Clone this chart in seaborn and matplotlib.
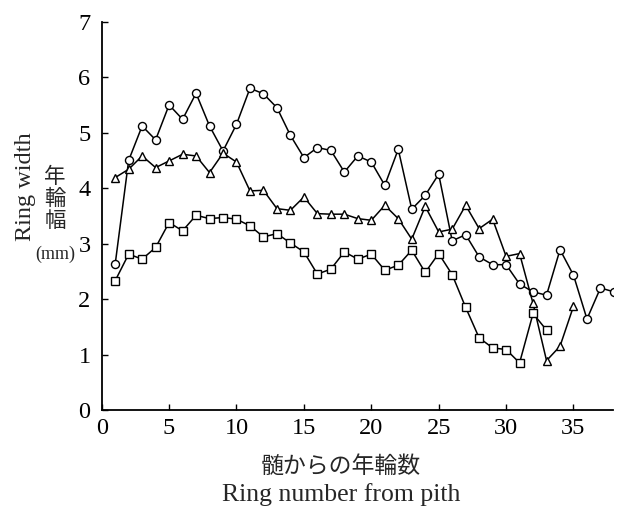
import numpy as np
import pandas as pd
import matplotlib
matplotlib.use("Agg")
import matplotlib.pyplot as plt
import seaborn as sns

# ---- data ----
ring_circle = list(range(1, 39))
width_circle = [2.63, 4.50, 5.12, 4.87, 5.50, 5.24, 5.71, 5.12, 4.67, 5.15,
                5.80, 5.70, 5.45, 4.95, 4.55, 4.73, 4.68, 4.29, 4.58, 4.47,
                4.05, 4.70, 3.62, 3.87, 4.25, 3.05, 3.16, 2.76, 2.62, 2.62,
                2.27, 2.13, 2.07, 2.89, 2.43, 1.64, 2.20, 2.13]

ring_triangle = list(range(1, 36))
width_triangle = [4.19, 4.34, 4.58, 4.37, 4.49, 4.61, 4.58, 4.28, 4.63, 4.47,
                  3.95, 3.96, 3.63, 3.60, 3.84, 3.54, 3.53, 3.53, 3.45, 3.42,
                  3.69, 3.45, 3.08, 3.67, 3.21, 3.26, 3.69, 3.27, 3.44, 2.77,
                  2.82, 1.92, 0.89, 1.15, 1.87]

ring_square = list(range(1, 34))
width_square = [2.33, 2.81, 2.72, 2.93, 3.38, 3.23, 3.51, 3.45, 3.47, 3.44,
                3.32, 3.12, 3.18, 3.01, 2.85, 2.45, 2.54, 2.85, 2.72, 2.81,
                2.52, 2.61, 2.88, 2.48, 2.82, 2.44, 1.85, 1.30, 1.12, 1.09,
                0.85, 1.74, 1.44]

x_ticks = [0, 5, 10, 15, 20, 25, 30, 35]
y_ticks = [0, 1, 2, 3, 4, 5, 6, 7]

sns.set_style("ticks")
plt.rcParams['font.family'] = ['Liberation Serif', 'Noto Sans CJK JP', 'DejaVu Sans']

W, H = 621, 509
fig = plt.figure(figsize=(W / 100, H / 100), dpi=100)
ax = fig.add_axes([101.7 / W, 1 - 410 / H, (613 - 101.7) / W, (410 - 21.7) / H])

series = [
    (ring_circle, width_circle, 'o', 5.8),
    (ring_triangle, width_triangle, '^', 6.2),
    (ring_square, width_square, 's', 5.6),
]
for xs, ys, mk, ms in series:
    df = pd.DataFrame({'ring': xs, 'width': ys})
    sns.lineplot(data=df, x='ring', y='width', ax=ax, color='black',
                 linewidth=1.1, marker=mk, markersize=ms,
                 markerfacecolor='white', markeredgecolor='black',
                 markeredgewidth=1.0, sort=False)

ax.set_xlim(0, (613 - 101.7) / 13.48)
ax.set_ylim(0, 7)
ax.set_xticks(x_ticks)
ax.set_yticks(y_ticks)
ax.set_xlabel('')
ax.set_ylabel('')
sns.despine(ax=ax)
for s in ['left', 'bottom']:
    ax.spines[s].set_linewidth(1.3)
    ax.spines[s].set_color('black')
ax.tick_params(axis='both', direction='in', length=4, width=1.0,
               labelsize=17.5, colors='black', pad=6)
ax.tick_params(axis='y', pad=8)

# axis titles
fig.text(341 / W, 1 - 466 / H, '髄からの年輪数', ha='center', va='center',
         fontsize=16.5, family=['Noto Sans CJK JP', 'DejaVu Sans'])
fig.text(341 / W, 1 - 495 / H, 'Ring number from pith', ha='center',
         va='center', fontsize=18.5)
fig.text(25 / W, 1 - 187 / H, 'Ring width', ha='center', va='center',
         rotation=90, fontsize=17.5)
fig.text(55 / W, 1 - 199 / H, '年\n輪\n幅', ha='center', va='center',
         fontsize=15.5, linespacing=1.02,
         family=['Noto Sans CJK JP', 'DejaVu Sans'])
fig.text(55 / W, 1 - 254 / H, '(mm)', ha='center', va='center',
         fontsize=13)

fig.savefig('out.png', dpi=100)
